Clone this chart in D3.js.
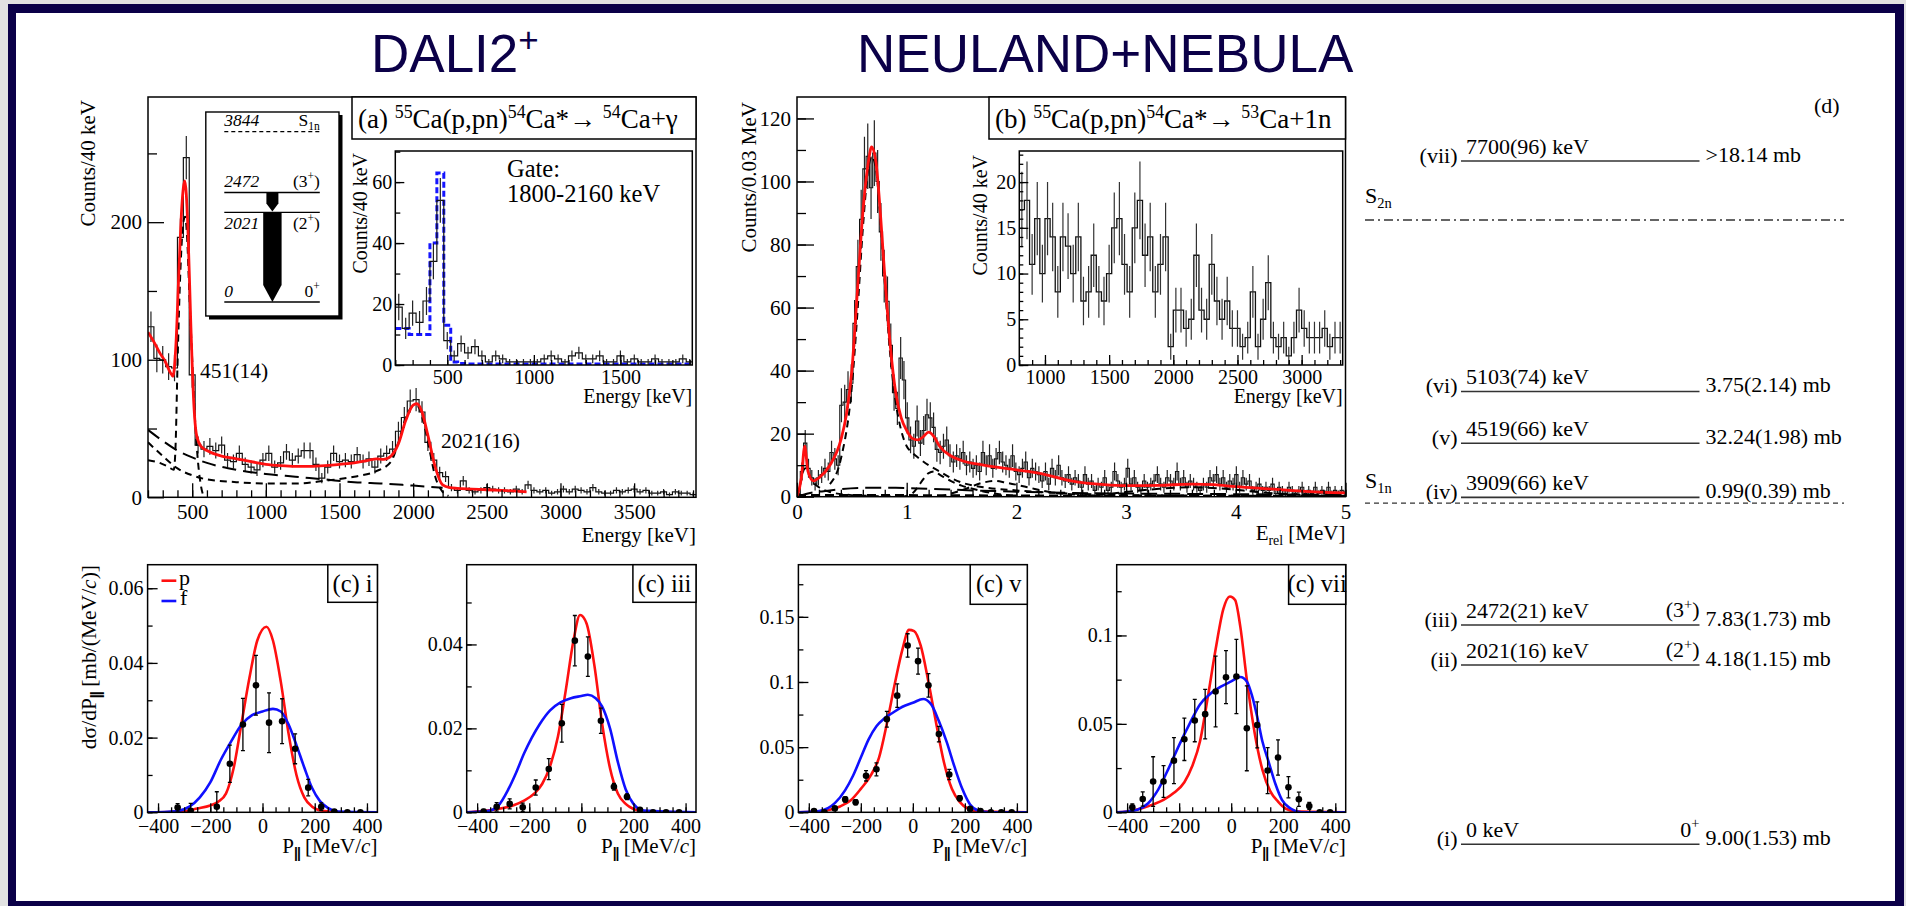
<!DOCTYPE html>
<html><head><meta charset="utf-8">
<script src="https://cdnjs.cloudflare.com/ajax/libs/d3/7.8.5/d3.min.js"></script>
<style>body{margin:0;background:#e2e2e2;overflow:hidden}svg{display:block}</style>
</head><body>
<svg id="c" width="1906" height="906"></svg>
<script>
// ---------------- DATA ----------------
// (a) DALI2+ gamma spectrum, 40 keV bins starting at 200 keV
const aBinLow = 200, aBinWidth = 40;
const aCounts = [124,101,100,95,94,189,247,89,38,35, 37,34,38,27,26,32,24,22,20,27,
  32,22,25,33,27,30,34,34,24,14, 22,32,26,27,26,31,26,28,22,30,
  32,35,48,58,70,71,62,40,27,18, 15,7,5,12,5,4,5,7,6,5,
  5,4,6,4,9,5,4,5,3,4, 6,4,6,5,4,7,4,3,3,5,
  4,5,6,4,5,3,3,4,2,4, 3,3,2];
const aFit = [[200,120],[240,113],[280,105],[320,98],[350,91],[370,88],[390,112],[410,165],[430,212],[450,230],[470,198],[490,128],[510,70],[530,45],[560,37],[600,34],[700,30],[800,28],[900,26],[1000,24],[1100,23],[1200,22.5],[1300,22.5],[1400,23],[1500,24],[1600,25],[1700,27],[1750,28],[1800,27.5],[1850,30],[1900,39],[1950,56],[2000,67],[2025,68],[2060,62],[2100,45],[2150,22],[2200,9],[2250,7],[2300,6.5],[2400,6],[2500,5.5],[2600,5],[2700,4.5],[2770,4]];
const aComp451 = [[200,27],[280,25],[340,22],[375,20],[388,40],[400,95],[420,165],[440,200],[452,204],[465,190],[480,150],[500,100],[520,55],[540,25],[560,8],[580,0]];
const aComp2021 = [[200,40],[300,30],[400,21],[500,16],[600,13],[800,11],[1000,10],[1200,10],[1400,12],[1600,15],[1750,19],[1850,26],[1900,40],[1950,58],[2000,66],[2030,66],[2070,55],[2110,35],[2150,15],[2200,4],[2240,1]];
const aCompBg = [[200,49],[300,41],[400,34],[500,29],[600,25],[800,20],[1000,17],[1200,15],[1400,13],[1600,11],[1800,10],[2000,8.5],[2200,7]];
const aXTicks = [500,1000,1500,2000,2500,3000,3500];
const aYTicks = [0,100,200];
// (a) inset: gamma-gamma gated, 40 keV bins from 200 keV
const aInLow = 200, aInWidth = 40;
const aInCounts = [19,12,17,14,21,34,54,8,3,7, 4,6,3,1,3,2,1,1,1,1,
  1,2,3,2,1,3,4,2,2,3, 1,1,3,1,2,1,1,2,1,1, 1,2,1];
const aInSim = [12,12,10,10,10,40,63,13,1,0.5, 0.3,0.3,0.3,0.3,0.3,0.3,0.3,0.3,0.3,0.3,
  0.3,0.3,0.3,0.3,0.3,0.3,0.3,0.3,0.3,0.3, 0.3,0.3,0.3,0.3,0.3,0.3,0.3,0.3,0.3,0.3, 0.3,0.3,0.3];
const aInXTicks = [500,1000,1500];
const aInYTicks = [0,20,40,60];
// (a) level-scheme inset
const aLevE = [0,2021,2472];
const aLevLabel = ["0","2021","2472"];
const aLevSpin = [["0","+"],["(2","+",")"],["(3","+",")"]];
const aS1n = 3844;

// (b) NEULAND+NEBULA relative energy, 0.03 MeV bins from 0
const bBinLow = 0, bBinWidth = 0.03;
const bCounts = [1,8,17,9,6,4,6,7,9,8, 14,12,10,29,30,34,36,55,73,88,
  104,108,98,109,100,84,70,62,48,33, 28,44,37,25,18,16,24,17,21,26,
  25,22,15,14,16,18,13,11,13,12, 14,10,11,9,10,8,14,10,13,9,
  12,14,11,10,9,13,8,7,9,11, 6,9,8,7,5,8,4,9,6,10,
  6,5,7,4,6,5,3,7,4,5, 2,4,3,6,2,3,8,5,3,4,
  9,4,6,3,2,5,3,4,5,7, 4,3,6,5,4,8,4,6,3,5,
  4,3,2,4,3,6,5,7,4,6, 3,5,4,7,3,6,4,5,2,3,
  4,2,3,2,4,1,3,2,1,3, 2,1,2,3,1,2,1,3,1,2, 1,3,1,2,1,2,1];
const bFit = [[0,0],[0.04,6],[0.07,16],[0.1,8],[0.15,5],[0.2,6],[0.3,10],[0.4,18],[0.45,26],[0.5,40],[0.55,65],[0.6,90],[0.65,106],[0.68,111],[0.72,106],[0.76,90],[0.8,70],[0.85,48],[0.9,33],[0.95,25],[1.0,21],[1.05,18.5],[1.1,18],[1.15,19],[1.2,20.5],[1.25,19],[1.3,16],[1.4,13],[1.5,11.5],[1.7,10],[2.0,8.5],[2.2,7.5],[2.5,5],[2.8,3.8],[3.0,3.5],[3.3,3.6],[3.6,4],[3.8,3.8],[4.0,3.2],[4.3,2.5],[4.6,1.8],[5.0,1.2]];
const bCompMain = [[0.3,4],[0.4,12],[0.5,35],[0.55,58],[0.6,85],[0.65,104],[0.68,108],[0.72,104],[0.76,88],[0.8,68],[0.85,45],[0.9,30],[0.95,21],[1.0,16],[1.05,14],[1.1,12.5],[1.2,10],[1.3,8],[1.4,6],[1.5,4.5],[1.7,3],[2.0,2],[2.5,1],[3,0.5],[5,0.2]];
const bCompLow = [[0,0],[0.03,4],[0.06,8.5],[0.08,9],[0.11,7],[0.15,4.5],[0.2,3],[0.3,1.5],[0.5,0.5],[1,0]];
const bComp12 = [[0.95,0],[1.05,1],[1.1,3],[1.15,5.5],[1.2,7.5],[1.25,8],[1.3,7],[1.4,5],[1.5,3.5],[1.6,2.5],[1.8,1],[2.0,0.3]];
const bComp18 = [[1.3,0],[1.5,2],[1.7,4.5],[1.8,5],[1.9,4.5],[2.1,3],[2.3,1.5],[2.6,0.5],[2.8,0]];
const bComp36 = [[2.6,0],[3.0,1.5],[3.3,2.5],[3.6,3],[3.9,2.5],[4.2,1.5],[4.6,0.5],[5,0]];
const bCompBroad = [[0,0],[0.1,1],[0.3,2],[0.6,2.8],[0.9,2.8],[1.2,2.5],[1.6,2],[2,1.6],[2.5,1.2],[3,1],[3.5,0.9],[4,0.8],[5,0.6]];
const bCompBase = [[0,0.5],[1,0.5],[2,0.4],[3,0.4],[4,0.3],[5,0.3]];
const bXTicks = [0,1,2,3,4,5];
const bYTicks = [0,20,40,60,80,100,120];
// (b) inset, 40 keV bins from 800 keV
const bInLow = 800, bInWidth = 40;
const bInCounts = [17,18,11,16,10,16,14,8,14,13, 10,14,7,8,12,8,7,10,15,16,
  11,8,15,18,12,14,8,11,14,2, 6,6,4,5,12,6,5,11,7,5,
  7,4,4,2,3,8,2,5,9,3, 2,3,1,3,6,4,3,3,3,4, 2,3,3];
const bInXTicks = [1000,1500,2000,2500,3000];
const bInYTicks = [0,5,10,15,20];

// (c) momentum distributions: [P, value, error]
const cXTicks = [-400,-200,0,200,400];
const c1Pts = [[-325,0.0013,0.001],[-275,0.0004,0.002],[-175,0.0015,0.004],[-125,0.013,0.005],[-75,0.0235,0.007],[-25,0.034,0.008],[25,0.024,0.008],[75,0.0244,0.006],[125,0.017,0.004],[175,0.0066,0.0022],[225,0.0015,0.001],[275,0.0002,0.0005],[325,0,0],[375,0,0]];
const c1Red = [[-440,0],[-300,0.0003],[-250,0.001],[-200,0.0018],[-170,0.0028],[-140,0.005],[-110,0.012],[-80,0.024],[-50,0.036],[-20,0.046],[15,0.0497],[40,0.046],[70,0.035],[100,0.021],[130,0.01],[160,0.004],[190,0.0015],[230,0.0004],[300,0],[440,0]];
const c1Blue = [[-440,0],[-330,0.0003],[-280,0.0015],[-240,0.004],[-200,0.008],[-160,0.014],[-120,0.019],[-80,0.0235],[-40,0.026],[0,0.027],[40,0.0277],[70,0.027],[100,0.0235],[130,0.018],[160,0.012],[190,0.0065],[220,0.003],[250,0.0012],[290,0.0002],[440,0]];
const c1YTicks = [0,0.02,0.04,0.06];
const c3Pts = [[-375,0.0002,0.0005],[-325,0.0013,0.001],[-275,0.002,0.0012],[-225,0.0012,0.001],[-175,0.0059,0.0018],[-125,0.0103,0.0025],[-75,0.0212,0.0045],[-25,0.0409,0.006],[25,0.0371,0.0047],[75,0.0218,0.003],[125,0.0061,0.0008],[175,0.0037,0.0007],[225,0.0006,0.0003],[275,0,0],[325,0,0],[375,0,0]];
const c3Red = [[-440,0],[-380,0.0003],[-320,0.0008],[-260,0.0017],[-220,0.0028],[-180,0.0045],[-150,0.0068],[-120,0.011],[-90,0.018],[-60,0.029],[-30,0.041],[-5,0.047],[20,0.045],[50,0.035],[80,0.021],[110,0.0105],[140,0.0045],[170,0.002],[200,0.0008],[250,0.0001],[440,0]];
const c3Blue = [[-440,0],[-360,0.0003],[-320,0.0015],[-280,0.0055],[-250,0.0095],[-220,0.014],[-190,0.0178],[-160,0.021],[-120,0.0243],[-80,0.0262],[-40,0.0272],[0,0.0277],[25,0.028],[55,0.0272],[80,0.0252],[110,0.02],[140,0.012],[170,0.0055],[200,0.002],[240,0.0004],[440,0]];
const c3YTicks = [0,0.02,0.04];
const c5Pts = [[-380,0.001,0.001],[-340,0,0],[-300,0.003,0.001],[-260,0.0099,0.002],[-220,0.0077,0.002],[-180,0.028,0.004],[-140,0.033,0.005],[-100,0.0714,0.006],[-60,0.0895,0.009],[-20,0.128,0.009],[20,0.116,0.01],[60,0.0974,0.009],[100,0.06,0.006],[140,0.029,0.004],[180,0.0107,0.002],[220,0.0026,0.001],[260,0.001,0.0005],[300,0,0],[340,0,0],[380,0,0]];
const c5Red = [[-440,0],[-380,0.0005],[-320,0.002],[-280,0.0045],[-240,0.009],[-200,0.018],[-160,0.029],[-130,0.042],[-100,0.068],[-70,0.098],[-40,0.125],[-15,0.14],[5,0.139],[30,0.128],[60,0.1],[90,0.068],[120,0.038],[150,0.018],[180,0.008],[210,0.003],[250,0.0008],[440,0]];
const c5Blue = [[-440,0],[-360,0.001],[-300,0.007],[-260,0.017],[-230,0.028],[-200,0.042],[-170,0.056],[-140,0.066],[-110,0.072],[-80,0.076],[-40,0.081],[0,0.084],[40,0.087],[70,0.083],[100,0.07],[130,0.054],[160,0.035],[190,0.018],[220,0.006],[250,0.0015],[300,0],[440,0]];
const c5YTicks = [0,0.05,0.1,0.15];
const c7Pts = [[-380,0.0028,0.002],[-340,0.0075,0.004],[-300,0.0174,0.014],[-260,0.0174,0.009],[-220,0.0292,0.013],[-180,0.0413,0.012],[-140,0.0519,0.012],[-100,0.0555,0.014],[-60,0.0683,0.02],[-20,0.0764,0.015],[20,0.0768,0.021],[60,0.0475,0.024],[100,0.0494,0.013],[140,0.0236,0.013],[180,0.031,0.01],[220,0.0142,0.006],[260,0.0074,0.004],[300,0.0036,0.002],[340,0,0],[380,0,0]];
const c7Red = [[-440,0],[-400,0.0005],[-340,0.0025],[-300,0.0045],[-260,0.007],[-220,0.011],[-180,0.017],[-150,0.026],[-120,0.04],[-90,0.065],[-60,0.092],[-30,0.115],[-5,0.122],[15,0.12],[35,0.105],[60,0.075],[90,0.045],[120,0.024],[150,0.012],[180,0.006],[210,0.002],[250,0.0005],[440,0]];
const c7Blue = [[-440,0],[-400,0.0005],[-360,0.0015],[-320,0.005],[-280,0.013],[-240,0.025],[-200,0.038],[-160,0.05],[-120,0.061],[-80,0.067],[-40,0.071],[0,0.074],[35,0.0765],[60,0.074],[80,0.066],[100,0.054],[120,0.04],[145,0.028],[170,0.016],[195,0.007],[230,0.002],[270,0],[440,0]];
const c7YTicks = [0,0.05,0.1];

// (d) level scheme of 54Ca
const dLevE = [0,2021,2472,3909,4519,5103,7700];
const dLevId = ["(i)","(ii)","(iii)","(iv)","(v)","(vi)","(vii)"];
const dLevText = ["0 keV","2021(16) keV","2472(21) keV","3909(66) keV","4519(66) keV","5103(74) keV","7700(96) keV"];
const dLevSpin = [["0","+",""],["(2","+",")"],["(3","+",")"],null,null,null,null];
const dLevXsec = ["9.00(1.53) mb","4.18(1.15) mb","7.83(1.73) mb","0.99(0.39) mb","32.24(1.98) mb","3.75(2.14) mb",">18.14 mb"];
const dS1n = 3844, dS2n = 7035;

// ---------------- DRAWING ----------------
const svg = d3.select("#c");
const SERIF = "'Liberation Serif','Times New Roman',serif";
const SANS = "'Liberation Sans',Arial,sans-serif";
const NAVY = "#0b0048";
const RED = "#ff1010", BLUE = "#1010ff";

// slide frame
svg.append("rect").attr("x",8).attr("y",4).attr("width",1896).attr("height",902).attr("fill",NAVY);
svg.append("rect").attr("x",16).attr("y",13).attr("width",1879).attr("height",888).attr("fill","#fff");

function rich(g, x, y, parts, size, anchor){
  const t = g.append("text").attr("x",x).attr("y",y).attr("font-family",SERIF)
    .attr("font-size",size).attr("text-anchor",anchor||"start").attr("fill","#000");
  let cur = 0;
  parts.forEach(p=>{
    if(typeof p === "string") p = {t:p};
    let off = 0, fs = size;
    if(p.sup){off = -0.38*size; fs = 0.66*size;}
    if(p.sub){off = 0.22*size; fs = 0.66*size;}
    const s = t.append("tspan").text(p.t).attr("dy", off-cur).attr("font-size", fs).attr("fill","#000");
    if(p.it) s.attr("font-style","italic");
    if(p.b) s.attr("font-weight","bold");
    if(p.fam) s.attr("font-family",p.fam);
    if(p.ls) s.attr("letter-spacing",p.ls);
    cur = off;
  });
  return t;
}
function vrich(g, x, y, parts, size){
  const gg = g.append("g").attr("transform",`translate(${x},${y}) rotate(-90)`);
  return rich(gg, 0, 0, parts, size, "end");
}
const PAR = {t:"||", sub:true, b:true, fam:SANS, ls:"-1px"};

let clipN = 0;
function panel(o){
  const g = svg.append("g");
  const x = d3.scaleLinear().domain(o.xd).range([o.l,o.r]);
  const y = d3.scaleLinear().domain(o.yd).range([o.b,o.t]);
  if(o.fill) g.append("rect").attr("x",o.l).attr("y",o.t).attr("width",o.r-o.l).attr("height",o.b-o.t).attr("fill","#fff");
  const id = "clp"+(clipN++);
  svg.append("clipPath").attr("id",id).append("rect").attr("x",o.l).attr("y",o.t).attr("width",o.r-o.l).attr("height",o.b-o.t);
  const data = g.append("g").attr("clip-path",`url(#${id})`);
  return {g, data, x, y, o};
}
function axes(p, a){
  const {g,x,y,o} = p;
  const fmtX = a.xfmt || d3.format("d");
  const fmtY = a.yfmt || d3.format("d");
  const gx = g.append("g").attr("transform",`translate(0,${o.b})`);
  if(a.xMinor) gx.append("g").call(d3.axisBottom(x).tickValues(a.xMinor).tickSize(-a.xml).tickFormat(""));
  gx.append("g").call(d3.axisBottom(x).tickValues(a.xMajor).tickSize(-a.xMl).tickPadding(a.xpad).tickFormat(fmtX));
  const gy = g.append("g").attr("transform",`translate(${o.l},0)`);
  if(a.yMinor) gy.append("g").call(d3.axisLeft(y).tickValues(a.yMinor).tickSize(-a.yml).tickFormat(""));
  gy.append("g").call(d3.axisLeft(y).tickValues(a.yMajor).tickSize(-a.yMl).tickPadding(a.ypad).tickFormat(fmtY));
  g.selectAll(".domain").remove();
  g.selectAll(".tick line").attr("stroke","#000").attr("stroke-width",1.3);
  [gx,gy].forEach(s=>s.selectAll("text").attr("font-family",SERIF).attr("font-size",a.fs).attr("fill","#000"));
  g.append("rect").attr("x",o.l).attr("y",o.t).attr("width",o.r-o.l).attr("height",o.b-o.t)
    .attr("fill","none").attr("stroke","#000").attr("stroke-width",1.5);
}
function histo(p, low, width, counts, opt){
  const pts = counts.map((v,i)=>[low+i*width, v]);
  pts.push([low+counts.length*width, counts[counts.length-1]]);
  p.data.append("path").attr("d", d3.line().curve(d3.curveStepAfter).x(d=>p.x(d[0])).y(d=>p.y(d[1]))(pts))
    .attr("fill","none").attr("stroke",opt.color||"#111").attr("stroke-width",opt.w||1.2)
    .attr("stroke-dasharray",opt.dash||null);
  if(opt.err){
    p.data.append("g").selectAll("line").data(counts.map((v,i)=>[low+(i+0.5)*width, v]).filter(d=>d[1]>0))
      .join("line").attr("x1",d=>p.x(d[0])).attr("x2",d=>p.x(d[0]))
      .attr("y1",d=>p.y(d[1]-Math.sqrt(d[1]))).attr("y2",d=>p.y(d[1]+Math.sqrt(d[1])))
      .attr("stroke",opt.ecolor||"#222").attr("stroke-width",opt.ew||1.2);
  }
}
function curve(p, pts, opt){
  p.data.append("path").attr("d", d3.line().curve(opt.curve||d3.curveMonotoneX).x(d=>p.x(d[0])).y(d=>p.y(d[1]))(pts))
    .attr("fill","none").attr("stroke",opt.color).attr("stroke-width",opt.w||2)
    .attr("stroke-dasharray",opt.dash||null).attr("stroke-linejoin","round");
}
function labelBox(x0,y0,x1,y1){
  svg.append("rect").attr("x",x0).attr("y",y0).attr("width",x1-x0).attr("height",y1-y0)
    .attr("fill","#fff").attr("stroke","#000").attr("stroke-width",1.5);
}

// ---- titles ----
rich(svg, 371, 72, [{t:"DALI2",fam:SANS},{t:"+",sup:true,fam:SANS}], 53).selectAll("tspan").attr("fill",NAVY);
rich(svg, 857, 72, [{t:"NEULAND+NEBULA",fam:SANS}], 53).selectAll("tspan").attr("fill",NAVY);

// ---- panel (a) ----
const pa = panel({l:148,r:696,t:97,b:497.3,xd:[200,3920],yd:[0,291]});
histo(pa, aBinLow, aBinWidth, aCounts, {err:true, w:1.2});
curve(pa, aCompBg, {color:"#000", w:2, dash:"14,7"});
curve(pa, aComp2021, {color:"#000", w:2, dash:"7,5"});
curve(pa, aComp451, {color:"#000", w:2, dash:"7,5"});
curve(pa, aFit, {color:RED, w:2.8});
axes(pa, {xMajor:aXTicks, xMinor:d3.range(200,3901,100), xMl:14, xml:7, xpad:7,
  yMajor:aYTicks, yMinor:[50,150,250], yMl:16, yml:9, ypad:6, fs:21});
vrich(svg, 95, 100, ["Counts/40 keV"], 21);
rich(svg, 696, 542, ["Energy [keV]"], 21, "end");
rich(svg, 200, 378, ["451(14)"], 21.5);
rich(svg, 441, 448, ["2021(16)"], 21.5);
labelBox(352, 97, 696, 139);
rich(svg, 358, 128, ["(a) ",{t:"55",sup:true},"Ca(p,pn)",{t:"54",sup:true},"Ca*→ ",{t:"54",sup:true},"Ca+γ"], 27);

// level scheme inset in (a)
svg.append("rect").attr("x",209).attr("y",115).attr("width",133.5).attr("height",204.5).attr("fill","#000");
svg.append("rect").attr("x",205.8).attr("y",112).attr("width",133.2).attr("height",204).attr("fill","#fff").attr("stroke","#000").attr("stroke-width",1.4);
const ly = d3.scaleLinear().domain([0,aS1n]).range([302,131.7]);
const lx0 = 224.3, lx1 = 319.8;
aLevE.forEach((e,i)=>{
  svg.append("line").attr("x1",lx0).attr("x2",lx1).attr("y1",ly(e)).attr("y2",ly(e)).attr("stroke","#000").attr("stroke-width",1.3);
  const below = (e===2021);
  const by = below ? ly(e)+16.5 : ly(e)-5.5;
  rich(svg, lx0, by, [{t:aLevLabel[i],it:true}], 17.5);
  const sp = aLevSpin[i];
  rich(svg, lx1, by, [sp[0],{t:sp[1],sup:true},sp[2]||""], 17.5, "end");
});
svg.append("line").attr("x1",lx0).attr("x2",lx1).attr("y1",ly(aS1n)).attr("y2",ly(aS1n)).attr("stroke","#000").attr("stroke-width",1.3).attr("stroke-dasharray","4,3");
rich(svg, lx0, ly(aS1n)-6, [{t:"3844",it:true}], 17.5);
rich(svg, lx1, ly(aS1n)-6, ["S",{t:"1n",sub:true}], 17.5, "end");
{
  const cx = 272.4;
  const y1 = ly(2021), y2 = ly(0);
  svg.append("polygon").attr("points",[[cx-9.2,y1],[cx+9.2,y1],[cx+9.2,y2-17],[cx,y2],[cx-9.2,y2-17]].join(" ")).attr("fill","#000");
  const z1 = ly(2472), z2 = ly(2021);
  svg.append("polygon").attr("points",[[cx-6,z1],[cx+6,z1],[cx+6,z2-9],[cx,z2-1],[cx-6,z2-9]].join(" ")).attr("fill","#000");
}

// inset of (a)
const pai = panel({l:395.3,r:692.3,t:151,b:365,xd:[200,1915],yd:[0,70.2],fill:true});
histo(pai, aInLow, aInWidth, aInSim, {color:"#1515ff", w:3, dash:"6,3"});
histo(pai, aInLow, aInWidth, aInCounts, {err:true, w:1.2});
axes(pai, {xMajor:aInXTicks, xMinor:d3.range(200,1901,100), xMl:10, xml:5, xpad:5,
  yMajor:aInYTicks, yMinor:d3.range(0,71,10), yMl:9, yml:5, ypad:3, fs:20});
vrich(svg, 366.5, 153, ["Counts/40 keV"], 20);
rich(svg, 692.3, 403, ["Energy [keV]"], 20, "end");
rich(svg, 507, 177, ["Gate:"], 24.5);
rich(svg, 507, 202, ["1800-2160 keV"], 24.5);

// ---- panel (b) ----
const pb = panel({l:797,r:1345.5,t:97,b:496.7,xd:[0,5],yd:[0,126.8]});
histo(pb, bBinLow, bBinWidth, bCounts, {err:true, w:1.1});
curve(pb, bCompBase, {color:"#000", w:2, dash:"9,5"});
curve(pb, bCompBroad, {color:"#000", w:2, dash:"16,7"});
curve(pb, bComp36, {color:"#000", w:2, dash:"9,5"});
curve(pb, bComp18, {color:"#000", w:2, dash:"7,5"});
curve(pb, bComp12, {color:"#000", w:2, dash:"7,5"});
curve(pb, bCompLow, {color:"#000", w:2, dash:"7,5"});
curve(pb, bCompMain, {color:"#000", w:2, dash:"7,5"});
curve(pb, bFit, {color:RED, w:2.8});
axes(pb, {xMajor:bXTicks, xMinor:d3.range(0,5.01,0.2), xMl:14, xml:7, xpad:7,
  yMajor:bYTicks, yMinor:d3.range(0,121,10), yMl:17, yml:9, ypad:6, fs:21});
vrich(svg, 756, 102, ["Counts/0.03 MeV"], 21);
rich(svg, 1345.5, 540, ["E",{t:"rel",sub:true}," [MeV]"], 21, "end");
labelBox(989, 97, 1345.5, 139);
rich(svg, 995, 128, ["(b) ",{t:"55",sup:true},"Ca(p,pn)",{t:"54",sup:true},"Ca*→ ",{t:"53",sup:true},"Ca+1n"], 27);

const pbi = panel({l:1019.3,r:1342.7,t:151,b:365,xd:[800,3320],yd:[0,23.4],fill:true});
histo(pbi, bInLow, bInWidth, bInCounts, {err:true, w:1.3, ecolor:"#333"});
axes(pbi, {xMajor:bInXTicks, xMinor:d3.range(800,3301,100), xMl:10, xml:5, xpad:5,
  yMajor:bInYTicks, yMinor:d3.range(0,23.1,1), yMl:9, yml:4, ypad:3, fs:20});
vrich(svg, 987, 155, ["Counts/40 keV"], 20);
rich(svg, 1342.7, 403, ["Energy [keV]"], 20, "end");

// ---- panels (c) ----
function cPanel(l, r, ymax, yTicks, pts, red, blue, label, boxL, boxB){
  const p = panel({l, r, t:564.7, b:812.3, xd:[-440,440], yd:[0,ymax]});
  curve(p, red, {color:RED, w:2.6});
  curve(p, blue, {color:BLUE, w:2.6});
  const dg = p.data.append("g");
  pts.forEach(d=>{
    if(d[2]>0){
      dg.append("line").attr("x1",p.x(d[0])).attr("x2",p.x(d[0])).attr("y1",p.y(d[1]-d[2])).attr("y2",p.y(d[1]+d[2])).attr("stroke","#000").attr("stroke-width",1.3);
      [d[1]-d[2], d[1]+d[2]].forEach(v=>dg.append("line").attr("x1",p.x(d[0])-2).attr("x2",p.x(d[0])+2).attr("y1",p.y(v)).attr("y2",p.y(v)).attr("stroke","#000").attr("stroke-width",1.3));
    }
    dg.append("circle").attr("cx",p.x(d[0])).attr("cy",p.y(d[1])).attr("r",3.3).attr("fill","#000");
  });
  const step = yTicks[1]-yTicks[0];
  axes(p, {xMajor:cXTicks, xMinor:d3.range(-400,401,50), xMl:9, xml:5, xpad:7,
    yMajor:yTicks, yMinor:d3.range(0,ymax,step/2), yMl:10, yml:5, ypad:4, fs:20,
    yfmt:d=>d===0?"0":d3.format("~g")(d)});
  labelBox(boxL, 564.7, r, boxB);
  rich(svg, (boxL+r)/2, 592, ["(c) "+label], 24.5, "middle");
  rich(svg, r, 853, ["P",PAR," [MeV/",{t:"c",it:true},"]"], 21, "end");
  return p;
}
cPanel(147.6, 377.4, 0.0663, c1YTicks, c1Pts, c1Red, c1Blue, "i", 327.8, 602.3);
cPanel(466.7, 696, 0.059, c3YTicks, c3Pts, c3Red, c3Blue, "iii", 632.9, 602.3);
cPanel(798.4, 1027.3, 0.19, c5YTicks, c5Pts, c5Red, c5Blue, "v", 970.2, 604.3);
cPanel(1116.7, 1345.7, 0.14, c7YTicks, c7Pts, c7Red, c7Blue, "vii", 1288.6, 604.3);
vrich(svg, 96, 565, ["dσ/dP",PAR,"  [mb/(MeV/",{t:"c",it:true},")]"], 21.5);
// legend
svg.append("line").attr("x1",161.5).attr("x2",176.3).attr("y1",580.7).attr("y2",580.7).attr("stroke",RED).attr("stroke-width",2.6);
rich(svg, 179, 585, ["p"], 22);
svg.append("line").attr("x1",161.5).attr("x2",176.3).attr("y1",601).attr("y2",601).attr("stroke",BLUE).attr("stroke-width",2.6);
rich(svg, 180, 605, ["f"], 22);

// ---- panel (d) level scheme ----
const dy = d3.scaleLinear().domain([0,7700]).range([844.3,161]);
const dx0 = 1461, dx1 = 1699.5;
rich(svg, 1814, 113, ["(d)"], 22);
dLevE.forEach((e,i)=>{
  const yy = dy(e);
  svg.append("line").attr("x1",dx0).attr("x2",dx1).attr("y1",yy).attr("y2",yy).attr("stroke","#333").attr("stroke-width",1.6);
  rich(svg, dx0-3.5, yy+2, [dLevId[i]], 22, "end");
  rich(svg, dx0+5, yy-7, [dLevText[i]], 22);
  if(dLevSpin[i]) rich(svg, dx1, yy-7.5, [dLevSpin[i][0],{t:dLevSpin[i][1],sup:true},dLevSpin[i][2]], 22, "end");
  rich(svg, dx1+6, yy+1, [dLevXsec[i]], 22);
});
svg.append("line").attr("x1",1365).attr("x2",1844).attr("y1",dy(dS2n)).attr("y2",dy(dS2n)).attr("stroke","#333").attr("stroke-width",1.3).attr("stroke-dasharray","9,4,2,4");
rich(svg, 1365, dy(dS2n)-17, ["S",{t:"2n",sub:true}], 22);
svg.append("line").attr("x1",1365).attr("x2",1844).attr("y1",dy(dS1n)).attr("y2",dy(dS1n)).attr("stroke","#333").attr("stroke-width",1.3).attr("stroke-dasharray","5,4");
rich(svg, 1365, dy(dS1n)-15, ["S",{t:"1n",sub:true}], 22);
</script>
</body></html>
